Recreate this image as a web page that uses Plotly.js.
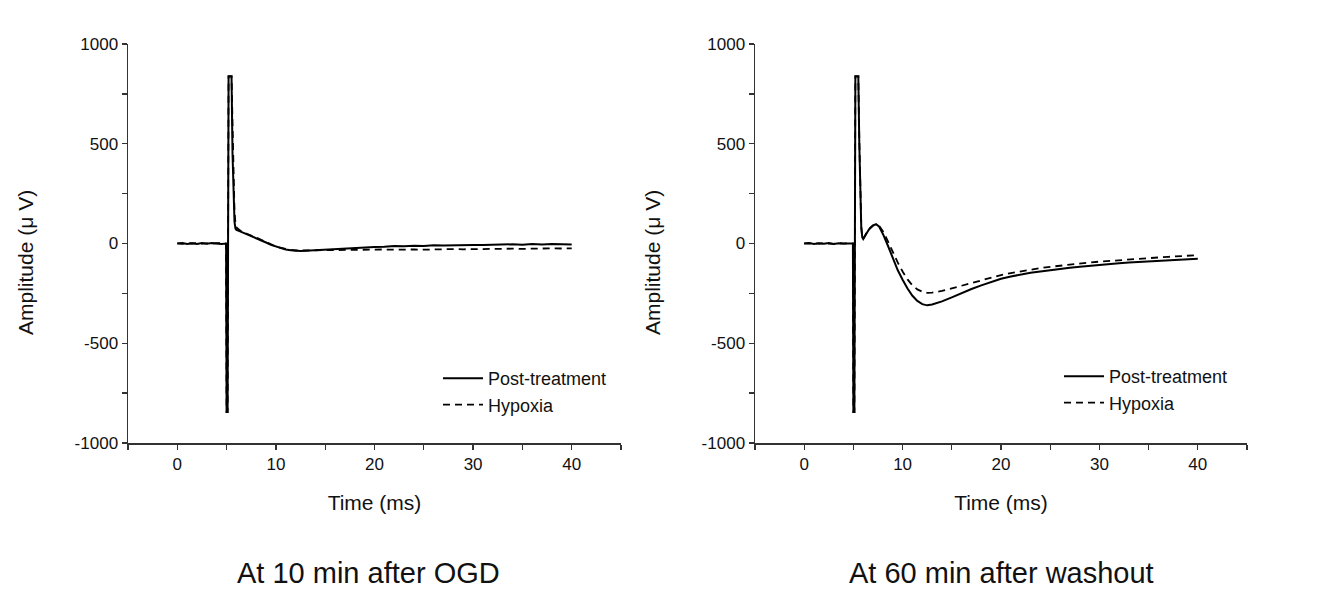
<!DOCTYPE html>
<html>
<head>
<meta charset="utf-8">
<script src="https://cdn.plot.ly/plotly-3.0.1.min.js"></script>
<style>html,body{margin:0;padding:0;background:#fff;}#chart{width:1320px;height:600px;}</style>
</head>
<body>
<div id="chart"></div>
<script>
// Time points (ms)
const time = [0,0.5,1,1.5,2,2.5,3,3.5,4,4.5,
  4.95,5.0,5.1,5.2,5.3,5.5,
  5.6,5.7,5.8,5.9,6.0,
  6.3,6.6,7,7.3,7.6,
  8,8.5,9,9.5,10,10.5,11,11.5,12,12.5,13,
  14,15,16,17,18,19,20,21,22,23,24,25,26,27,28,29,30,31,32,33,34,35,36,37,38,39,40];

// Panel 1: At 10 min after OGD
const ogdPost = [0,3,-2,1,-3,2,-1,2,0,-2,
  0,-845,-845,838,838,838,
  450,220,110,75,68,
  62,56,48,42,36,
  28,17,5,-7,-16,-24,-30,-34,-36,-37,-36,
  -33,-30,-27,-26,-22,-21,-17,-16,-12,-14,-11,-12,-9,-10,-8,-9,-7,-8,-6,-7,-4,-6,-3,-5,-2,-4,-5];
const ogdHypoxia = [1,-2,2,0,2,-1,1,-2,2,0,
  0,-845,-845,838,838,838,
  600,300,160,100,80,
  68,58,50,45,38,
  30,18,6,-6,-15,-22,-28,-32,-35,-36,-35,
  -34,-33,-32,-31,-32,-30,-31,-30,-31,-29,-30,-31,-29,-30,-28,-29,-28,-29,-27,-28,-26,-27,-25,-26,-24,-25,-24];

// Panel 2: At 60 min after washout
const washPost = [0,2,-2,1,-1,2,-2,1,0,-1,
  0,-845,-845,838,838,838,
  500,250,80,30,22,
  48,72,90,97,86,
  48,-10,-72,-133,-182,-226,-262,-288,-304,-310,-306,
  -290,-270,-248,-228,-210,-192,-177,-165,-155,-147,-140,-133,-127,-121,-116,-111,-107,-103,-99,-95,-92,-89,-86,-83,-81,-79,-77];
const washHypoxia = [1,-1,2,-1,1,0,-2,2,-1,1,
  0,-845,-845,838,838,838,
  520,260,85,32,24,
  50,74,91,97,90,
  62,12,-45,-95,-140,-180,-210,-230,-242,-247,-246,
  -238,-225,-212,-197,-183,-170,-158,-148,-139,-131,-123,-117,-111,-105,-100,-95,-91,-87,-83,-79,-76,-73,-70,-67,-64,-61,-58];

const seriesNames = ['Post-treatment', 'Hypoxia'];
const panelTitles = ['At 10 min after OGD', 'At 60 min after washout'];
const xTitle = 'Time (ms)';
const yTitle = 'Amplitude (\u03bc V)';
const xTickVals = [0, 10, 20, 30, 40];
const xTickText = ['0', '10', '20', '30', '40'];
const yTickVals = [-1000, -500, 0, 500, 1000];
const yTickText = ['-1000', '-500', '0', '500', '1000'];

const FONT = 'Liberation Sans, Arial, Helvetica, sans-serif';
const solid = {color: '#000', width: 2, dash: 'solid'};
const dashed = {color: '#000', width: 1.8, dash: '7px,5px'};

const traces = [
  {x: time, y: ogdPost, name: seriesNames[0], type: 'scatter', mode: 'lines', line: solid, xaxis: 'x', yaxis: 'y', legend: 'legend'},
  {x: time, y: ogdHypoxia, name: seriesNames[1], type: 'scatter', mode: 'lines', line: dashed, xaxis: 'x', yaxis: 'y', legend: 'legend'},
  {x: time, y: washPost, name: seriesNames[0], type: 'scatter', mode: 'lines', line: solid, xaxis: 'x2', yaxis: 'y2', legend: 'legend2'},
  {x: time, y: washHypoxia, name: seriesNames[1], type: 'scatter', mode: 'lines', line: dashed, xaxis: 'x2', yaxis: 'y2', legend: 'legend2'}
];

const W = 1320, H = 600;
function xax(l, r) {
  return {
    domain: [l / W, r / W], range: [-5, 45],
    tickmode: 'array', tickvals: xTickVals, ticktext: xTickText,
    showgrid: false, zeroline: false, showline: true, linecolor: '#333', linewidth: 1.5,
    ticks: 'outside', ticklen: 5, tickwidth: 1.3, tickcolor: '#333',
    minor: {dtick: 5, tick0: 0, ticks: 'outside', ticklen: 5, tickwidth: 1.3, tickcolor: '#333', showgrid: false},
    tickfont: {family: FONT, size: 17, color: '#111'},
    title: {text: xTitle, font: {family: FONT, size: 21, color: '#111'}, standoff: 22},
    fixedrange: true
  };
}
function yax(anchor) {
  return {
    domain: [(H - 443) / H, (H - 44) / H], range: [-1000, 1000],
    tickmode: 'array', tickvals: yTickVals, ticktext: yTickText,
    showgrid: false, zeroline: false, showline: true, linecolor: '#333', linewidth: 1.5,
    ticks: 'outside', ticklen: 5, tickwidth: 1.3, tickcolor: '#333',
    minor: {dtick: 250, tick0: 0, ticks: 'outside', ticklen: 5, tickwidth: 1.3, tickcolor: '#333', showgrid: false},
    tickfont: {family: FONT, size: 17, color: '#111'},
    anchor: anchor, fixedrange: true
  };
}

const layout = {
  width: W, height: H,
  margin: {l: 0, r: 0, t: 0, b: 0},
  paper_bgcolor: '#fff', plot_bgcolor: '#fff',
  font: {family: FONT, color: '#111'},
  xaxis: Object.assign(xax(128, 621), {anchor: 'y'}),
  yaxis: yax('x'),
  xaxis2: Object.assign(xax(755, 1247), {anchor: 'y2'}),
  yaxis2: yax('x2'),
  legend: {x: 438 / W, y: (H - 360) / H, xanchor: 'left', yanchor: 'top', bgcolor: 'rgba(0,0,0,0)', itemwidth: 40,
           font: {family: FONT, size: 18, color: '#111'}, tracegroupgap: 0},
  legend2: {x: 1059 / W, y: (H - 358) / H, xanchor: 'left', yanchor: 'top', bgcolor: 'rgba(0,0,0,0)', itemwidth: 40,
           font: {family: FONT, size: 18, color: '#111'}, tracegroupgap: 0},
  showlegend: true,
  annotations: [
    {text: yTitle, xref: 'paper', yref: 'paper', x: 25 / W, y: (H - 263) / H, xanchor: 'center', yanchor: 'middle',
     textangle: -90, showarrow: false, font: {family: FONT, size: 21, color: '#111'}},
    {text: yTitle, xref: 'paper', yref: 'paper', x: 652 / W, y: (H - 263) / H, xanchor: 'center', yanchor: 'middle',
     textangle: -90, showarrow: false, font: {family: FONT, size: 21, color: '#111'}},
    {text: panelTitles[0], xref: 'paper', yref: 'paper', x: 368 / W, y: (H - 573) / H, xanchor: 'center', yanchor: 'middle',
     showarrow: false, font: {family: FONT, size: 29, color: '#111'}},
    {text: panelTitles[1], xref: 'paper', yref: 'paper', x: 1002 / W, y: (H - 573) / H, xanchor: 'center', yanchor: 'middle',
     showarrow: false, font: {family: FONT, size: 29, color: '#111'}}
  ]
};

Plotly.newPlot('chart', traces, layout, {displayModeBar: false, staticPlot: true});
</script>
</body>
</html>
